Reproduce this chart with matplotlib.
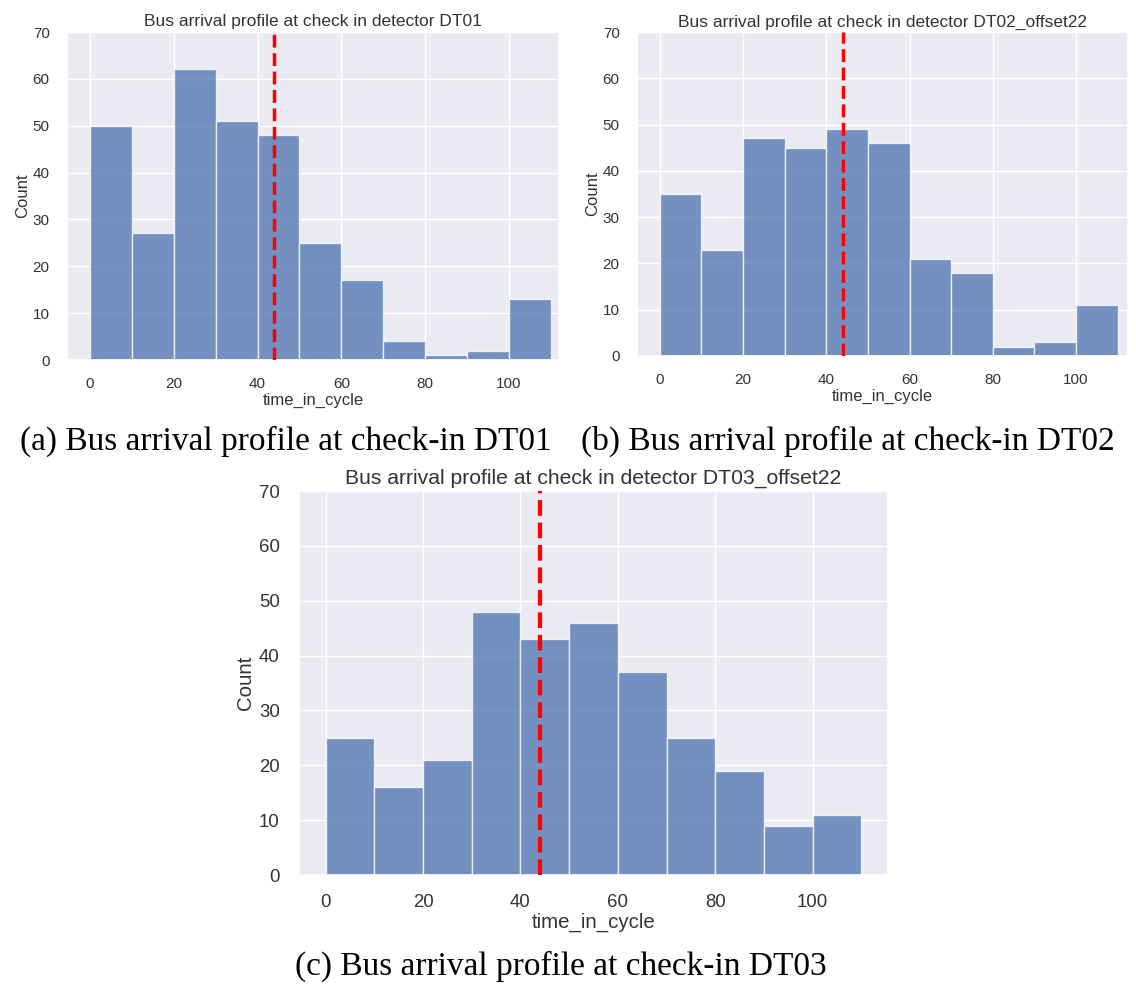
import numpy as np
import matplotlib
matplotlib.use("Agg")
import matplotlib.pyplot as plt
import seaborn as sns

sns.set_theme(style="darkgrid")
plt.rcParams['font.family'] = ['Liberation Sans', 'DejaVu Sans']

bin_edges = [0, 10, 20, 30, 40, 50, 60, 70, 80, 90, 100, 110]
counts_dt01 = [50, 27, 62, 51, 48, 25, 17, 4, 1, 2, 13]
counts_dt02 = [35, 23, 47, 45, 49, 46, 21, 18, 2, 3, 11]
counts_dt03 = [25, 16, 21, 48, 43, 46, 37, 25, 19, 9, 11]
threshold = 44

titles = ["Bus arrival profile at check in detector DT01",
          "Bus arrival profile at check in detector DT02_offset22",
          "Bus arrival profile at check in detector DT03_offset22"]
captions = ["(a) Bus arrival profile at check-in DT01",
            "(b) Bus arrival profile at check-in DT02",
            "(c) Bus arrival profile at check-in DT03"]
xticks = [0, 20, 40, 60, 80, 100]
yticks = [0, 10, 20, 30, 40, 50, 60, 70]

fig = plt.figure(figsize=(11.36, 9.85), dpi=100)
fig.patch.set_facecolor("white")

positions = [
    [67/1136, 1-360/985, 492/1136, 328/985],
    [637/1136, 1-356/985, 491/1136, 324/985],
    [299/1136, 1-875/985, 589/1136, 384/985],
]
scales = [1.0, 1.0, 1.22]
xlims = [(-5.5, 112), (-5.5, 112.5), (-5.5, 115.5)]
data = [counts_dt01, counts_dt02, counts_dt03]

for i in range(3):
    ax = fig.add_axes(positions[i])
    s = scales[i]
    edges = np.array(bin_edges)
    ax.bar(edges[:-1], data[i], width=np.diff(edges), align='edge',
           color="#4C72B0", alpha=0.75, edgecolor="white", linewidth=1.0, zorder=2)
    ax.axvline(threshold, color="red", linestyle="--", linewidth=2.5*s, zorder=3)
    ax.set_xlim(*xlims[i])
    ax.set_ylim(0, 70)
    ax.set_xticks(xticks)
    ax.set_yticks(yticks)
    ax.tick_params(labelsize=11*s, colors="#333333", pad=6.5*s)
    ax.set_title(titles[i], fontsize=12.5*s, color="#333333", pad=4*s)
    ax.set_xlabel("time_in_cycle", fontsize=12*s, color="#333333", labelpad=1*s)
    ax.set_ylabel("Count", fontsize=12*s, color="#333333", labelpad=2*s)

cap_font = dict(family=['Liberation Serif', 'DejaVu Serif'], fontsize=24, color="black", ha="center", va="center")
fig.text(286/1136, 1-441/985, captions[0], **cap_font)
fig.text(848/1136, 1-441/985, captions[1], **cap_font)
fig.text(561/1136, 1-966/985, captions[2], **cap_font)

fig.savefig("out.png", dpi=100, facecolor="white")
